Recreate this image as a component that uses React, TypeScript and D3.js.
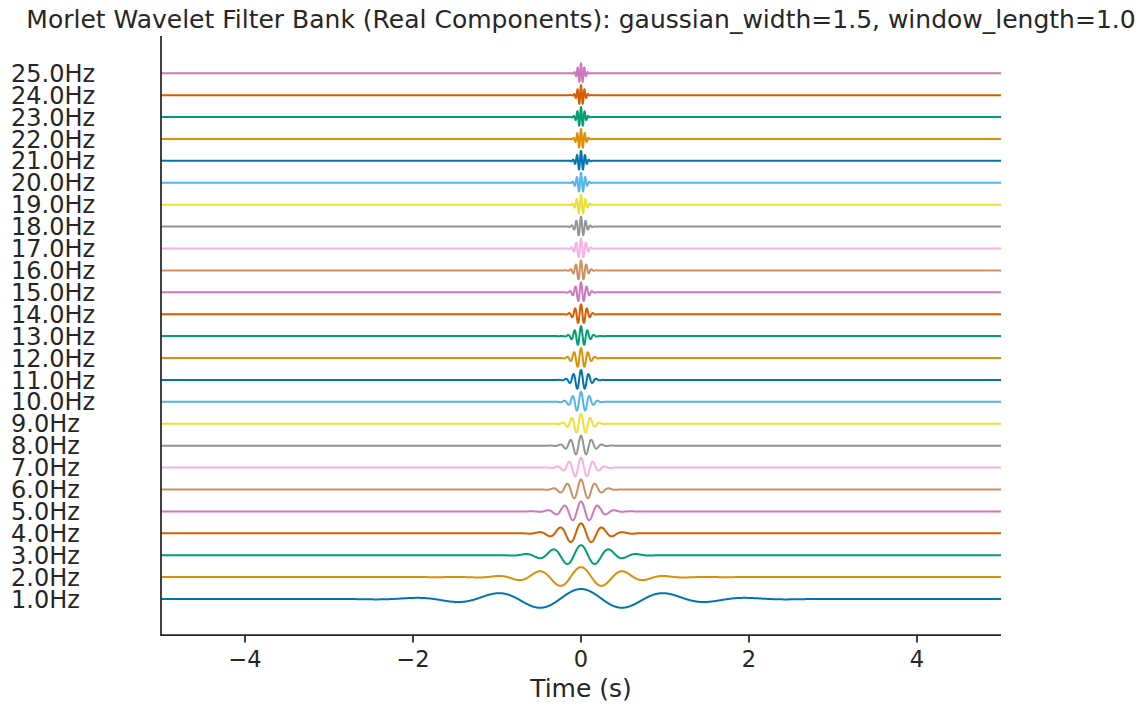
import React from "react";
import * as d3 from "d3";

// ---- data ----
const FREQUENCIES = [1, 2, 3, 4, 5, 6, 7, 8, 9, 10, 11, 12, 13, 14, 15, 16, 17, 18, 19, 20, 21, 22, 23, 24, 25];
const GAUSSIAN_WIDTH = 1.5;
const WINDOW_LENGTH = 1.0;
const TIME_DOMAIN: [number, number] = [-5, 5];
const X_TICKS = [-4, -2, 0, 2, 4];
const PALETTE = ["#0173b2", "#de8f05", "#029e73", "#d55e00", "#cc78bc", "#ca9161", "#fbafe4", "#949494", "#ece133", "#56b4e9"];
const SAMPLE_STEP = 0.002;
const TRACE_SCALE = 0.456; // wavelet peak relative to row spacing
const TITLE = `Morlet Wavelet Filter Bank (Real Components): gaussian_width=${GAUSSIAN_WIDTH.toFixed(1)}, window_length=${WINDOW_LENGTH.toFixed(1)}`;
const X_LABEL = "Time (s)";

// Morlet (real part): cos(2*pi*f*t) * gaussian envelope whose width scales with 1/f
function morlet(t: number, f: number) {
  const sigma = (2 * GAUSSIAN_WIDTH) / (Math.PI * f) * WINDOW_LENGTH;
  return Math.cos(2 * Math.PI * f * t) * Math.exp(-(t * t) / (2 * sigma * sigma));
}

const W = 1146;
const H = 711;
const L = 161, R = 1001, T = 36, B = 635;
const FONT = "DejaVu Sans, sans-serif";
const INK = "#262626";

export default function App() {
  const times = d3.range(TIME_DOMAIN[0], TIME_DOMAIN[1] + SAMPLE_STEP / 2, SAMPLE_STEP);
  const series = FREQUENCIES.map((f, i) => ({
    f,
    offset: i,
    values: times.map((t) => ({ t, v: i + TRACE_SCALE * morlet(t, f) })),
  }));
  const allV = series.flatMap((s) => s.values.map((p) => p.v));
  const [vmin, vmax] = d3.extent(allV) as [number, number];
  const pad = (vmax - vmin) * 0.05;

  const x = d3.scaleLinear().domain(TIME_DOMAIN).range([L, R]);
  const y = d3.scaleLinear().domain([vmin - pad, vmax + pad]).range([B, T]);
  const line = d3
    .line<{ t: number; v: number }>()
    .x((d) => x(d.t))
    .y((d) => y(d.v));

  return (
    <svg
      width={W}
      height={H}
      viewBox={`0 0 ${W} ${H}`}
      style={{ position: "absolute", left: 0, top: 0, background: "#fff" }}
      fontFamily={FONT}
    >
      <rect width={W} height={H} fill="#fff" />
      <text x={(L + R) / 2} y={28} textAnchor="middle" fontSize={25} fill={INK}>
        {TITLE}
      </text>
      {series.map((s, i) => (
        <path
          key={s.f}
          d={line(s.values) || ""}
          fill="none"
          stroke={PALETTE[i % PALETTE.length]}
          strokeWidth={2}
          strokeLinejoin="round"
        />
      ))}
      {series.map((s) => (
        <text key={"l" + s.f} x={11} y={y(s.offset)} dy="0.36em" fontSize={24} fill={INK}>
          {`${s.f.toFixed(1)}Hz`}
        </text>
      ))}
      {/* spines */}
      <line x1={L} x2={L} y1={T} y2={B} stroke={INK} strokeWidth={1.75} />
      <line x1={L - 0.875} x2={R} y1={B} y2={B} stroke={INK} strokeWidth={1.75} />
      {X_TICKS.map((t) => (
        <g key={t} transform={`translate(${x(t)},${B})`}>
          <line y1={0} y2={7.5} stroke={INK} strokeWidth={1.75} />
          <text y={32} textAnchor="middle" fontSize={22.5} fill={INK}>
            {t < 0 ? `\u2212${Math.abs(t)}` : `${t}`}
          </text>
        </g>
      ))}
      <text x={(L + R) / 2} y={697} textAnchor="middle" fontSize={25} fill={INK}>
        {X_LABEL}
      </text>
    </svg>
  );
}
